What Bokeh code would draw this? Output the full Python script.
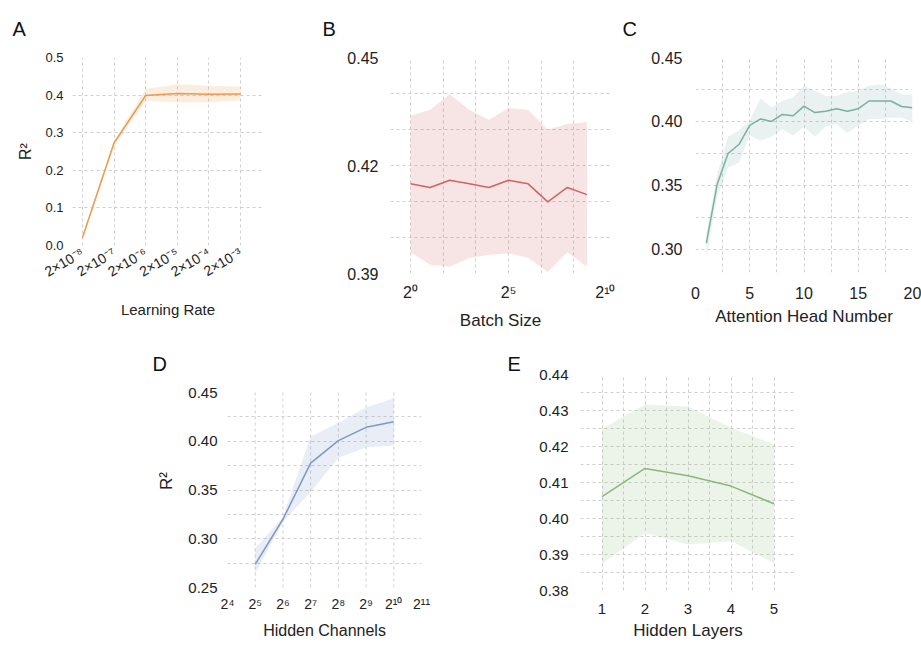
import math
from bokeh.plotting import figure
from bokeh.layouts import row, column, Spacer
from bokeh.models import FixedTicker, PrintfTickFormatter, Title
from bokeh.embed import file_html
from bokeh.resources import INLINE

FONT = "Liberation Sans"
TXT = "#222222"
GRID = "#cfcfcf"

# ---------------- data ----------------
# A: learning rate
lr = [2e-8, 2e-7, 2e-6, 2e-5, 2e-4, 2e-3]
lr_labels = ["2×10⁻⁸", "2×10⁻⁷", "2×10⁻⁶", "2×10⁻⁵", "2×10⁻⁴", "2×10⁻³"]
lr_mean = [0.021, 0.273, 0.399, 0.404, 0.402, 0.403]
lr_upper = [0.023, 0.280, 0.416, 0.429, 0.425, 0.423]
lr_lower = [0.019, 0.265, 0.385, 0.380, 0.380, 0.386]
a_yticks = [0.0, 0.1, 0.2, 0.3, 0.4, 0.5]

# B: batch size
batch = [1, 2, 4, 8, 16, 32, 64, 128, 256, 512]
batch_mean = [0.4149, 0.4139, 0.4159, 0.4149, 0.4139, 0.4159, 0.4149, 0.4099, 0.4139, 0.4119]
batch_upper = [0.4338, 0.4355, 0.4398, 0.4355, 0.4327, 0.4360, 0.4355, 0.4299, 0.4316, 0.4320]
batch_lower = [0.3959, 0.3924, 0.3919, 0.3943, 0.3952, 0.3956, 0.3944, 0.3904, 0.3959, 0.3919]
b_xticks = [1, 32, 1024]
b_xlabels = ["2⁰", "2⁵", "2¹⁰"]
b_yticks = [0.39, 0.42, 0.45]

# C: attention head number
heads = list(range(1, 21))
heads_mean = [0.305, 0.351, 0.375, 0.382, 0.397, 0.402, 0.400, 0.4055, 0.4045, 0.412,
              0.407, 0.408, 0.410, 0.408, 0.410, 0.416, 0.416, 0.416, 0.4117, 0.4107]
heads_upper = [0.312, 0.359, 0.388, 0.393, 0.401, 0.418, 0.411, 0.416, 0.419, 0.428,
               0.424, 0.420, 0.420, 0.423, 0.424, 0.428, 0.429, 0.426, 0.421, 0.421]
heads_lower = [0.294, 0.341, 0.364, 0.368, 0.389, 0.385, 0.388, 0.394, 0.389, 0.396,
               0.388, 0.396, 0.398, 0.391, 0.397, 0.402, 0.402, 0.403, 0.403, 0.400]
c_xticks = [0, 5, 10, 15, 20]
c_yticks = [0.30, 0.35, 0.40, 0.45]

# D: hidden channels
channels = [32, 64, 128, 256, 512, 1024]
chan_mean = [0.2738, 0.320, 0.3776, 0.4007, 0.4143, 0.420]
chan_upper = [0.290, 0.3224, 0.405, 0.419, 0.4347, 0.4442]
chan_lower = [0.2646, 0.3173, 0.348, 0.383, 0.3939, 0.3956]
d_xticks = [16, 32, 64, 128, 256, 512, 1024, 2048]
d_xlabels = ["2⁴", "2⁵", "2⁶", "2⁷", "2⁸", "2⁹", "2¹⁰", "2¹¹"]
d_yticks = [0.25, 0.30, 0.35, 0.40, 0.45]

# E: hidden layers
layers = [1, 2, 3, 4, 5]
layers_mean = [0.4061, 0.4139, 0.4119, 0.4090, 0.4041]
layers_upper = [0.4249, 0.4317, 0.4311, 0.4252, 0.4206]
layers_lower = [0.3874, 0.3960, 0.3928, 0.3937, 0.3876]
e_xticks = [1, 2, 3, 4, 5]
e_yticks = [0.38, 0.39, 0.40, 0.41, 0.42, 0.43, 0.44]


def make(fw, fh, ml, mr, mt, mb, x_range, y_range, x_type="linear"):
    p = figure(frame_width=fw, frame_height=fh, min_border_left=ml, min_border_right=mr,
               min_border_top=mt, min_border_bottom=mb, x_range=x_range, y_range=y_range,
               x_axis_type=x_type, output_backend="svg", toolbar_location=None,
               background_fill_color="white", border_fill_color="white")
    p.outline_line_color = None
    for ax in (p.xaxis[0], p.yaxis[0]):
        ax.axis_line_color = None
        ax.major_tick_line_color = None
        ax.minor_tick_line_color = None
        ax.major_tick_out = 0
        ax.major_tick_in = 0
        ax.minor_tick_out = 0
        ax.major_label_text_font = FONT
        ax.major_label_text_color = TXT
        ax.axis_label_text_font = FONT
        ax.axis_label_text_color = TXT
        ax.axis_label_text_font_style = "normal"
    for g in (p.xgrid[0], p.ygrid[0]):
        g.grid_line_color = GRID
        g.grid_line_dash = "3 3"
        g.grid_line_width = 1
    return p


def band(p, x, m, u, l, color, alpha):
    p.varea(x=x, y1=l, y2=u, fill_color=color, fill_alpha=alpha)
    p.line(x=x, y=m, line_color=color, line_width=1.5)


def letter(p, txt, offset, valign, standoff):
    p.add_layout(Title(text=txt, align="left", offset=offset, vertical_align=valign,
                       standoff=standoff, text_font=FONT, text_font_size="20px",
                       text_font_style="normal", text_color="#111111"), "above")


TOP = 57          # top border of the upper row
BOT_TOP = 31      # top border of the lower row

# ---------------- A ----------------
pA = make(191, 188, 72, 47, TOP, 98, (9.66e-9, 1.07e-2), (0, 0.5), "log")
band(pA, lr, lr_mean, lr_upper, lr_lower, "#E89A4E", 0.17)
pA.xaxis.ticker = FixedTicker(ticks=lr)
pA.xaxis.major_label_overrides = {v: s for v, s in zip(lr, lr_labels)}
pA.xaxis.major_label_orientation = math.pi / 6
pA.xaxis.major_label_text_font_size = "14px"
pA.xaxis.major_label_standoff = 6
pA.xaxis.axis_label = "Learning Rate"
pA.xaxis.axis_label_text_font_size = "15px"
pA.xaxis.axis_label_standoff = 11
pA.xgrid.ticker = FixedTicker(ticks=lr)
pA.yaxis.ticker = FixedTicker(ticks=a_yticks)
pA.yaxis.formatter = PrintfTickFormatter(format="%.1f")
pA.yaxis.major_label_text_font_size = "13px"
pA.yaxis.major_label_standoff = 9
pA.yaxis.axis_label = "R²"
pA.yaxis.axis_label_text_font_size = "16px"
pA.yaxis.axis_label_standoff = 8
pA.ygrid.ticker = FixedTicker(ticks=a_yticks[1:-1])
letter(pA, "A", -60, "top", 32)

# ---------------- B ----------------
pB = make(220, 216, 80, 5, TOP, 70, (2 ** -1.02, 2 ** 10.2), (0.39, 0.45), "log")
band(pB, batch, batch_mean, batch_upper, batch_lower, "#D06464", 0.17)
pB.xaxis.ticker = FixedTicker(ticks=b_xticks)
pB.xaxis.major_label_overrides = {v: s for v, s in zip(b_xticks, b_xlabels)}
pB.xaxis.major_label_text_font_size = "16px"
pB.xaxis.major_label_standoff = 10
pB.xaxis.axis_label = "Batch Size"
pB.xaxis.axis_label_text_font_size = "17px"
pB.xaxis.axis_label_standoff = 7
pB.xgrid.ticker = FixedTicker(ticks=[2 ** (k * 5 / 3) for k in range(6)])
pB.yaxis.ticker = FixedTicker(ticks=b_yticks)
pB.yaxis.formatter = PrintfTickFormatter(format="%.2f")
pB.yaxis.major_label_text_font_size = "16px"
pB.yaxis.major_label_standoff = 12
pB.ygrid.ticker = FixedTicker(ticks=[0.40, 0.41, 0.42, 0.43, 0.44])
letter(pB, "B", -68, "top", 32)

# ---------------- C ----------------
pC = make(217, 215, 80, 9, TOP, 71, (0, 20), (0.282, 0.45))
band(pC, heads, heads_mean, heads_upper, heads_lower, "#78B0A2", 0.16)
pC.xaxis.ticker = FixedTicker(ticks=c_xticks)
pC.xaxis.major_label_text_font_size = "16px"
pC.xaxis.major_label_standoff = 14
pC.xaxis.axis_label = "Attention Head Number"
pC.xaxis.axis_label_text_font_size = "17px"
pC.xaxis.axis_label_standoff = 5
pC.xgrid.ticker = FixedTicker(ticks=[2.5 * k for k in range(1, 8)])
pC.yaxis.ticker = FixedTicker(ticks=c_yticks)
pC.yaxis.formatter = PrintfTickFormatter(format="%.2f")
pC.yaxis.major_label_text_font_size = "16px"
pC.yaxis.major_label_standoff = 13
pC.ygrid.ticker = FixedTicker(ticks=[0.30, 0.325, 0.35, 0.375, 0.40, 0.425])
letter(pC, "C", -73, "top", 32)

# ---------------- D ----------------
# frame shares its top with E; the y range reaches above 0.45 so that 0.45..0.25 sits where it should
d_lo, d_hi = d_yticks[0], d_yticks[-1]
pD = make(194, 213, 87, 79, BOT_TOP, 58, (2 ** 4, 2 ** 11), (d_lo, d_hi + (d_hi - d_lo) * 18 / 195), "log")
d_grid = d_xticks[1:-1]
pD.segment(x0=d_grid, x1=d_grid, y0=[d_lo] * len(d_grid), y1=[d_hi] * len(d_grid),
           line_color=GRID, line_dash="3 3", line_width=1)
pD.xgrid.visible = False
band(pD, channels, chan_mean, chan_upper, chan_lower, "#7D97C6", 0.17)
pD.xaxis.ticker = FixedTicker(ticks=d_xticks)
pD.xaxis.major_label_overrides = {v: s for v, s in zip(d_xticks, d_xlabels)}
pD.xaxis.major_label_text_font_size = "14px"
pD.xaxis.major_label_standoff = 8
pD.xaxis.axis_label = "Hidden Channels"
pD.xaxis.axis_label_text_font_size = "16px"
pD.xaxis.axis_label_standoff = 7
pD.yaxis.ticker = FixedTicker(ticks=d_yticks)
pD.yaxis.formatter = PrintfTickFormatter(format="%.2f")
pD.yaxis.major_label_text_font_size = "15px"
pD.yaxis.major_label_standoff = 10
pD.yaxis.axis_label = "R²"
pD.yaxis.axis_label_text_font_size = "17px"
pD.yaxis.axis_label_standoff = 9
pD.ygrid.ticker = FixedTicker(ticks=[0.275, 0.30, 0.325, 0.35, 0.375, 0.40, 0.425])
letter(pD, "D", -75, "bottom", 0)

# ---------------- E ----------------
pE = make(215, 216, 80, 126, BOT_TOP, 55, (0.5, 5.5), (0.38, 0.44))
band(pE, layers, layers_mean, layers_upper, layers_lower, "#8AB878", 0.16)
pE.xaxis.ticker = FixedTicker(ticks=e_xticks)
pE.xaxis.major_label_text_font_size = "15px"
pE.xaxis.major_label_standoff = 13
pE.xaxis.axis_label = "Hidden Layers"
pE.xaxis.axis_label_text_font_size = "17px"
pE.xaxis.axis_label_standoff = 4
pE.xgrid.ticker = FixedTicker(ticks=[1 + 0.5 * k for k in range(9)])
pE.yaxis.ticker = FixedTicker(ticks=e_yticks)
pE.yaxis.formatter = PrintfTickFormatter(format="%.2f")
pE.yaxis.major_label_text_font_size = "15px"
pE.yaxis.major_label_standoff = 12
pE.ygrid.ticker = FixedTicker(ticks=[0.385 + 0.005 * k for k in range(11)])
letter(pE, "E", -73, "bottom", 0)

layout = column(row(pA, pB, pC), row(Spacer(width=140, height=302), pD, pE))
open("out.html", "w").write(file_html(layout, INLINE))
